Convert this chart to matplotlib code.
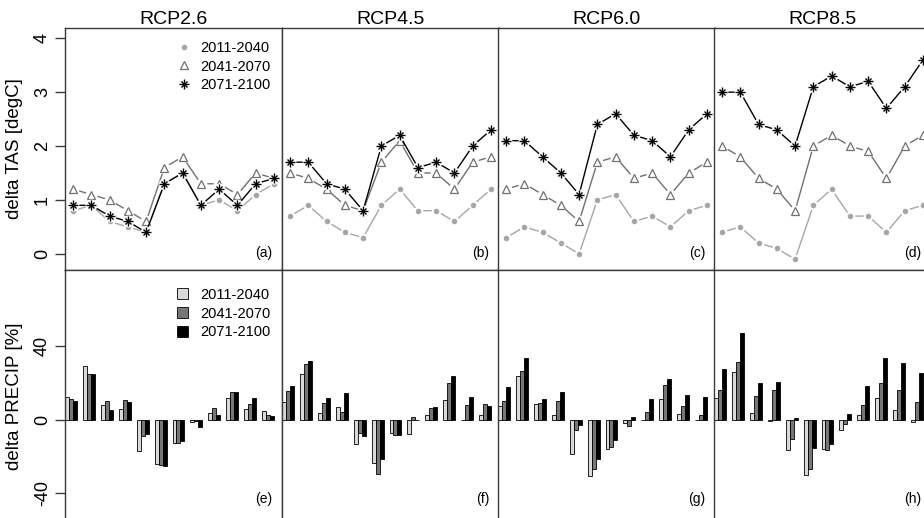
import matplotlib
matplotlib.use("Agg")
import matplotlib.pyplot as plt
from matplotlib.patches import Patch
from matplotlib.lines import Line2D
import numpy as np

plt.rcParams['font.family'] = ['Liberation Sans', 'DejaVu Sans']

# ---------------- data ----------------
months = list(range(1, 13))
scenarios = ["RCP2.6", "RCP4.5", "RCP6.0", "RCP8.5"]
periods = ["2011-2040", "2041-2070", "2071-2100"]
top_labels = ["(a)", "(b)", "(c)", "(d)"]
bottom_labels = ["(e)", "(f)", "(g)", "(h)"]

# delta TAS [degC]
tas_rcp26_p1 = [0.8, 0.9, 0.6, 0.5, 0.4, 1.3, 1.5, 0.9, 1.0, 0.8, 1.1, 1.3]
tas_rcp26_p2 = [1.2, 1.1, 1.0, 0.8, 0.6, 1.6, 1.8, 1.3, 1.3, 1.1, 1.5, 1.4]
tas_rcp26_p3 = [0.9, 0.9, 0.7, 0.6, 0.4, 1.3, 1.5, 0.9, 1.2, 0.9, 1.3, 1.4]

tas_rcp45_p1 = [0.7, 0.9, 0.6, 0.4, 0.3, 0.9, 1.2, 0.8, 0.8, 0.6, 0.9, 1.2]
tas_rcp45_p2 = [1.5, 1.4, 1.2, 0.9, 0.8, 1.7, 2.1, 1.5, 1.5, 1.2, 1.7, 1.8]
tas_rcp45_p3 = [1.7, 1.7, 1.3, 1.2, 0.8, 2.0, 2.2, 1.6, 1.7, 1.5, 2.0, 2.3]

tas_rcp60_p1 = [0.3, 0.5, 0.4, 0.2, 0.0, 1.0, 1.1, 0.6, 0.7, 0.5, 0.8, 0.9]
tas_rcp60_p2 = [1.2, 1.3, 1.1, 0.9, 0.6, 1.7, 1.8, 1.4, 1.5, 1.1, 1.5, 1.7]
tas_rcp60_p3 = [2.1, 2.1, 1.8, 1.5, 1.1, 2.4, 2.6, 2.2, 2.1, 1.8, 2.3, 2.6]

tas_rcp85_p1 = [0.4, 0.5, 0.2, 0.1, -0.1, 0.9, 1.2, 0.7, 0.7, 0.4, 0.8, 0.9]
tas_rcp85_p2 = [2.0, 1.8, 1.4, 1.2, 0.8, 2.0, 2.2, 2.0, 1.9, 1.4, 2.0, 2.2]
tas_rcp85_p3 = [3.0, 3.0, 2.4, 2.3, 2.0, 3.1, 3.3, 3.1, 3.2, 2.7, 3.1, 3.6]

# delta PRECIP [%]
pr_rcp26_p1 = [12, 29, 8, 5.5, -17, -24, -13, -1.5, 3.6, 11.7, 5.8, 4.5]
pr_rcp26_p2 = [11, 25, 10, 10.5, -9, -24.5, -13, -1, 6.3, 14.8, 8.5, 2.2]
pr_rcp26_p3 = [10, 25, 5.4, 9.7, -8, -25.4, -11.7, -4, 2.2, 14.8, 11.5, 1.8]

pr_rcp45_p1 = [9.7, 24.7, 3.6, 7, -13.2, -23.6, -7.5, -8, 2.5, 10.8, -0.5, 2.5]
pr_rcp45_p2 = [15.7, 30, 8.8, 4.3, -7.2, -29.4, -8.6, 1.5, 6.3, 19.8, 7.9, 8.5]
pr_rcp45_p3 = [18, 31.9, 11.9, 14.4, -9, -21.3, -8.6, -0.5, 6.7, 23.8, 12, 7.2]

pr_rcp60_p1 = [7.6, 23.8, 8.5, 2.2, -18.6, -30.6, -16, -2, -0.5, 11.2, 3, 0]
pr_rcp60_p2 = [10.3, 26.5, 9, 10.3, -5.6, -27, -15, -3.5, 4.3, 18.7, 7.6, 2.5]
pr_rcp60_p3 = [17.5, 33.7, 11.2, 15.1, -3.2, -21.3, -11.4, 1.3, 11.2, 22.3, 13.5, 12.4]

pr_rcp85_p1 = [11.7, 25.9, 3.6, -0.9, -16.8, -30.3, -15.9, -5.6, 2.5, 11.7, 5.2, -1.1]
pr_rcp85_p2 = [16, 31.4, 12.8, 16.2, -10.8, -27, -16.4, -2.3, 8.1, 19.8, 16, 9.4]
pr_rcp85_p3 = [27.2, 47.2, 19.8, 20.5, 0.7, -15.5, -13.2, 3.1, 18.4, 33.3, 30.5, 25.2]

tas = [
    [tas_rcp26_p1, tas_rcp26_p2, tas_rcp26_p3],
    [tas_rcp45_p1, tas_rcp45_p2, tas_rcp45_p3],
    [tas_rcp60_p1, tas_rcp60_p2, tas_rcp60_p3],
    [tas_rcp85_p1, tas_rcp85_p2, tas_rcp85_p3],
]
pr = [
    [pr_rcp26_p1, pr_rcp26_p2, pr_rcp26_p3],
    [pr_rcp45_p1, pr_rcp45_p2, pr_rcp45_p3],
    [pr_rcp60_p1, pr_rcp60_p2, pr_rcp60_p3],
    [pr_rcp85_p1, pr_rcp85_p2, pr_rcp85_p3],
]

tas_ticks = [0, 1, 2, 3, 4]
pr_ticks = [-40, 0, 40]

# ---------------- layout ----------------
W, H = 924, 518
fig = plt.figure(figsize=(W / 100, H / 100), dpi=100)

def px_axes(x0, y0, x1, y1):
    return fig.add_axes([x0 / W, 1 - y1 / H, (x1 - x0) / W, (y1 - y0) / H])

lefts = [65, 282, 498, 714]
pw = 217
top_y0, top_y1 = 28, 270
bot_y0, bot_y1 = 270, 522.5

line_cols = ['#a6a6a6', '#707070', '#000000']
bar_cols = ['#d9d9d9', '#777777', '#000000']
spine_col = '#3a3a3a'

def style_axes(ax):
    for s in ax.spines.values():
        s.set_color(spine_col)
        s.set_linewidth(1.0)
    ax.tick_params(axis='x', bottom=False, labelbottom=False)

for k in range(4):
    # ---- top row: temperature ----
    ax = px_axes(lefts[k], top_y0, lefts[k] + pw, top_y1)
    style_axes(ax)
    ax.set_xlim(0.56, 12.44)
    ax.set_ylim(-0.3, 4.19)
    series = tas[k]
    z = 2
    # circles
    ax.plot(months, series[0], '-', color=line_cols[0], lw=1.0, zorder=z)
    ax.plot(months, series[0], 'o', ms=7, color='white', mec='none', zorder=z + 0.1)
    ax.plot(months, series[0], 'o', ms=4.0, color=line_cols[0], mec='none', zorder=z + 0.2)
    # triangles
    ax.plot(months, series[1], '-', color=line_cols[1], lw=1.0, zorder=z + 1)
    ax.plot(months, series[1], 'o', ms=8.5, color='white', mec='none', zorder=z + 1.1)
    ax.plot(months, series[1], '^', ms=6.3, mfc='white', mec=line_cols[1], mew=0.9, zorder=z + 1.2)
    # asterisks
    ax.plot(months, series[2], '-', color=line_cols[2], lw=1.0, zorder=z + 2)
    ax.plot(months, series[2], 'o', ms=8.5, color='white', mec='none', zorder=z + 2.1)
    ax.plot(months, series[2], '+', ms=7.0, color='black', mew=1.0, zorder=z + 2.2)
    ax.plot(months, series[2], 'x', ms=5.0, color='black', mew=1.0, zorder=z + 2.2)
    ax.set_title(scenarios[k], fontsize=14, pad=3)
    ax.text(0.955, 0.07, top_labels[k], transform=ax.transAxes, ha='right', va='center', fontsize=10)
    if k == 0:
        ax.set_yticks(tas_ticks)
        ax.set_yticklabels([str(t) for t in tas_ticks], rotation=90, va='center', fontsize=13)
        ax.tick_params(axis='y', direction='out', length=7, width=1, color=spine_col, pad=3)
        ax.set_ylabel("delta TAS [degC]", fontsize=13.5, labelpad=8)
        handles = [
            Line2D([], [], ls='none', marker='o', ms=4.0, color=line_cols[0], mec='none'),
            Line2D([], [], ls='none', marker='^', ms=6.3, mfc='white', mec=line_cols[1], mew=0.9),
            (Line2D([], [], ls='none', marker='+', ms=7.0, color='black', mew=1.0),
             Line2D([], [], ls='none', marker='x', ms=5.0, color='black', mew=1.0)),
        ]
        ax.legend(handles, periods, loc='upper right', frameon=False, fontsize=10.5,
                  handlelength=1.0, handletextpad=0.6, labelspacing=0.32,
                  borderaxespad=0.4, bbox_to_anchor=(1.0, 0.995))
    else:
        ax.tick_params(axis='y', left=False, labelleft=False)

    # ---- bottom row: precipitation ----
    axb = px_axes(lefts[k], bot_y0, lefts[k] + pw, bot_y1)
    style_axes(axb)
    axb.set_xlim(0, 54.5)
    axb.set_ylim(-56, 81.3)
    gx = np.arange(12) * 4.5
    for j in range(3):
        axb.bar(gx + j + 0.5, pr[k][j], width=1.0, color=bar_cols[j],
                edgecolor='black', linewidth=0.6, zorder=2, clip_on=False)
    axb.text(0.955, 0.095, bottom_labels[k], transform=axb.transAxes, ha='right', va='center', fontsize=10)
    if k == 0:
        axb.set_yticks(pr_ticks)
        axb.set_yticklabels([str(t) for t in pr_ticks], rotation=90, va='center', fontsize=13)
        axb.tick_params(axis='y', direction='out', length=7, width=1, color=spine_col, pad=3)
        axb.set_ylabel("delta PRECIP [%]", fontsize=13.5, labelpad=8)
        bh = [Patch(facecolor=c, edgecolor='black', linewidth=0.6) for c in bar_cols]
        axb.legend(bh, periods, loc='upper right', frameon=False, fontsize=10.5,
                   handlelength=0.8, handleheight=0.8, handletextpad=0.8, labelspacing=0.32,
                   borderaxespad=0.4, bbox_to_anchor=(1.0, 0.975))
    else:
        axb.tick_params(axis='y', left=False, labelleft=False)

fig.savefig("out.png", dpi=100)
